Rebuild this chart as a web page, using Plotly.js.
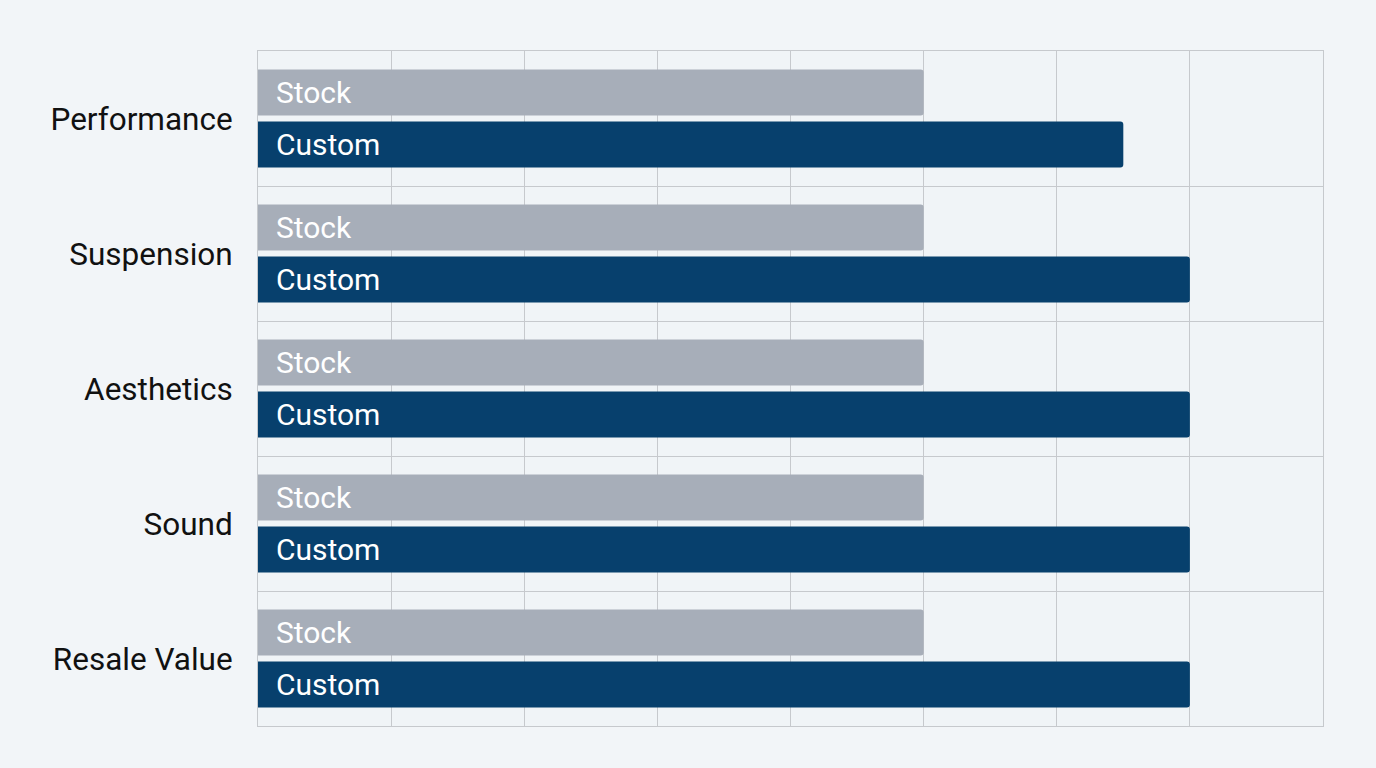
<!DOCTYPE html>
<html>
<head>
<meta charset="utf-8">
<script src="https://cdn.plot.ly/plotly-3.0.1.min.js"></script>
<style>
  html, body { margin: 0; padding: 0; background: #f2f5f8; }
  #chart { width: 1376px; height: 768px; }
</style>
</head>
<body>
<div id="chart"></div>
<script>
// categories top to bottom
const categories = ['Performance', 'Suspension', 'Aesthetics', 'Sound', 'Resale Value'];

// ratings on a 0-8 scale
const stockValues = [5, 5, 5, 5, 5];
const customValues = [6.5, 7, 7, 7, 7];

const seriesNames = ['Stock', 'Custom'];
const seriesColors = ['#a7aeb9', '#07406d'];

const PAD = '\u00a0\u00a0';

function barTrace(name, values, color) {
    return {
        type: 'bar',
        orientation: 'h',
        name: name,
        y: categories,
        x: values,
        marker: { color: color },
        text: categories.map(() => PAD + name),
        textposition: 'inside',
        insidetextanchor: 'start',
        textangle: 0,
        textfont: { family: 'Roboto, sans-serif', size: 30, color: '#ffffff' },
        constraintext: 'none',
        hoverinfo: 'skip'
    };
}

const traces = [
    barTrace(seriesNames[0], stockValues, seriesColors[0]),
    barTrace(seriesNames[1], customValues, seriesColors[1])
];

const gridColor = '#c6c9cd';

const layout = {
    width: 1376,
    height: 768,
    margin: { l: 258, r: 53, t: 51, b: 42, pad: 0 },
    paper_bgcolor: '#f2f5f8',
    plot_bgcolor: '#f0f4f7',
    showlegend: false,
    barmode: 'group',
    bargap: 0.23,
    bargroupgap: 0.115,
    barcornerradius: 3,
    font: { family: 'Roboto, sans-serif', color: '#111111' },
    xaxis: {
        range: [0, 8],
        dtick: 1,
        showticklabels: false,
        showgrid: true,
        gridcolor: gridColor,
        gridwidth: 1,
        zeroline: false,
        showline: true,
        mirror: true,
        linecolor: gridColor,
        linewidth: 1,
        fixedrange: true
    },
    yaxis: {
        type: 'category',
        autorange: 'reversed',
        tickson: 'boundaries',
        showgrid: true,
        gridcolor: gridColor,
        gridwidth: 1,
        ticks: '',
        ticklen: 0,
        tickfont: { family: 'Roboto, sans-serif', size: 31.5, color: '#111111' },
        ticklabelstandoff: 18,
        showline: true,
        mirror: true,
        linecolor: gridColor,
        linewidth: 1,
        fixedrange: true
    }
};

Plotly.newPlot('chart', traces, layout, { displayModeBar: false, staticPlot: true });
</script>
</body>
</html>
